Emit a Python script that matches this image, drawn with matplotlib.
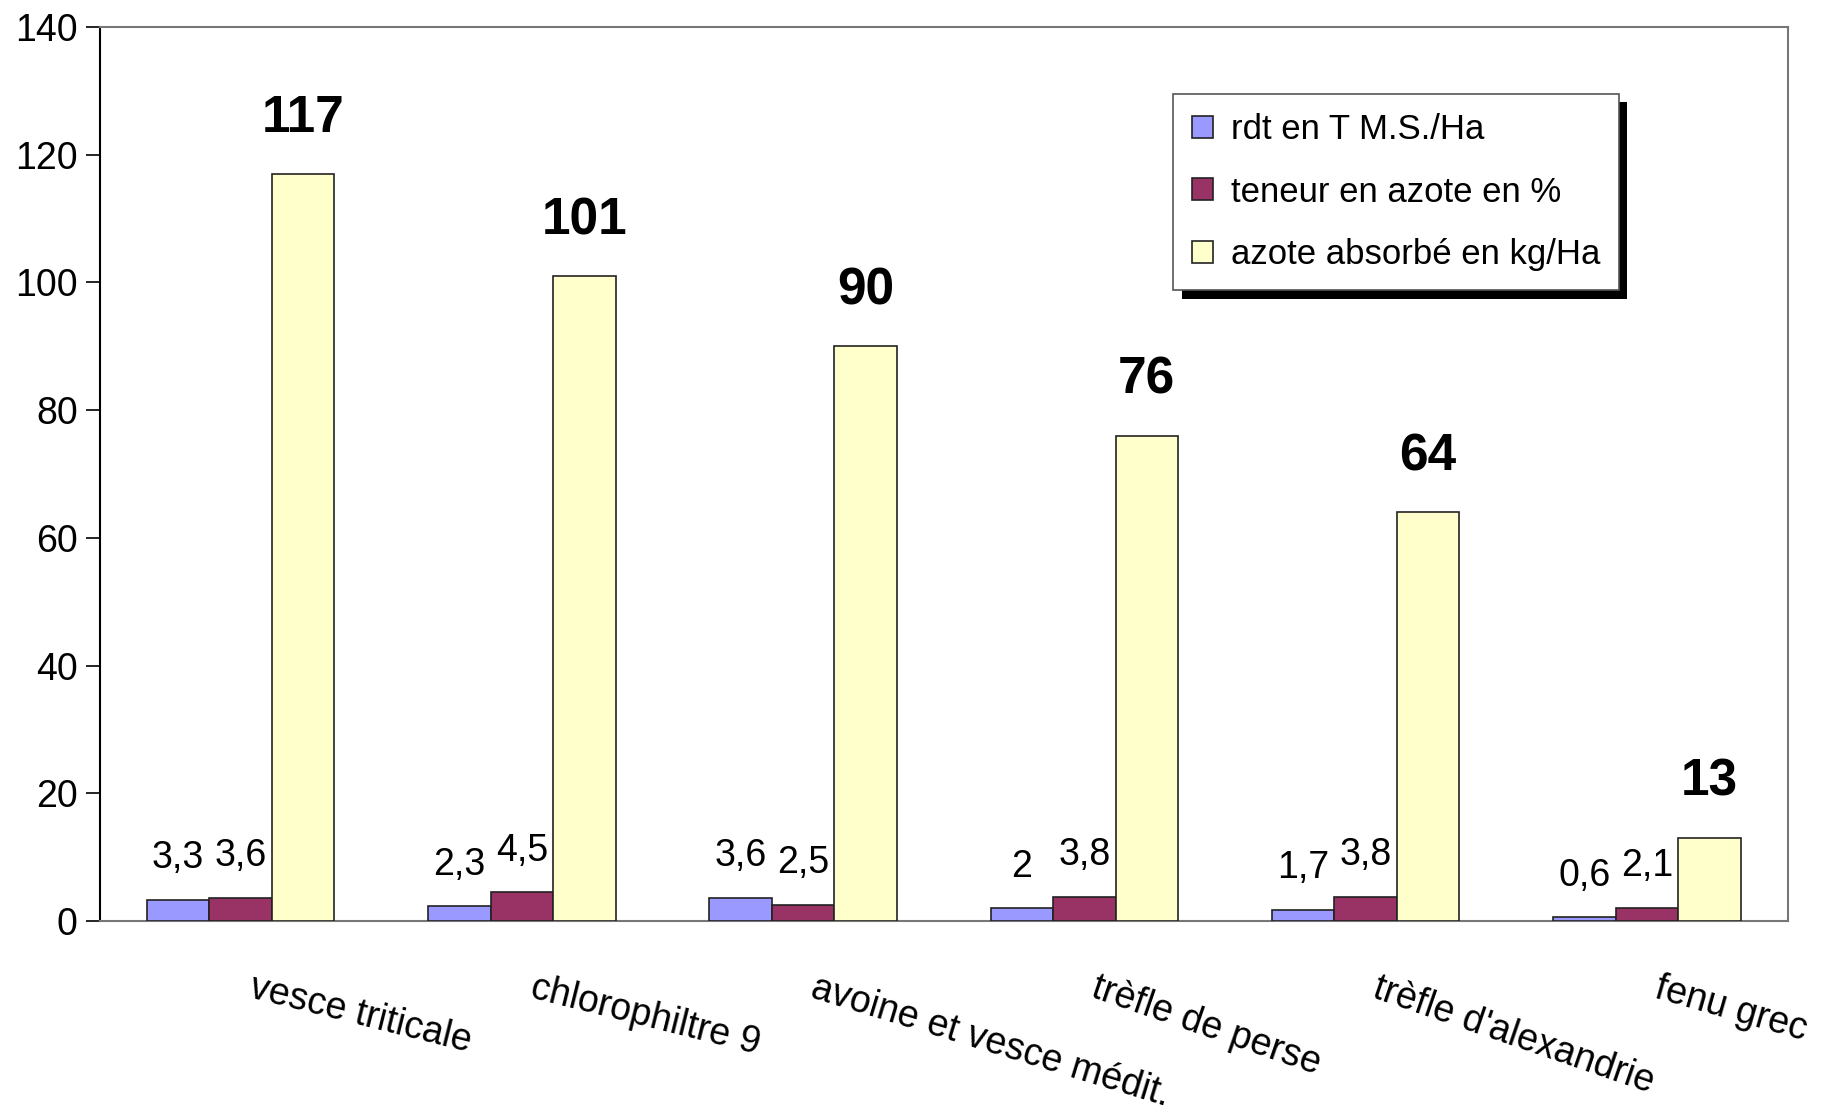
import numpy as np
import matplotlib
matplotlib.use("Agg")
import matplotlib.pyplot as plt
import matplotlib.patheffects as pe

plt.rcParams['font.family'] = ['Liberation Sans', 'DejaVu Sans']

categories = ["vesce triticale", "chlorophiltre 9", "avoine et vesce médit.",
              "trèfle de perse", "trèfle d'alexandrie", "fenu grec"]
label_rot = [-14, -14, -17, -19, -19, -16]
rdt = [3.3, 2.3, 3.6, 2, 1.7, 0.6]
teneur = [3.6, 4.5, 2.5, 3.8, 3.8, 2.1]
azote = [117, 101, 90, 76, 64, 13]

series_names = ["rdt en T M.S./Ha", "teneur en azote en %", "azote absorbé en kg/Ha"]
colors = ["#9999FF", "#993366", "#FFFFCC"]


def fmt(v):
    s = f"{v:g}"
    return s.replace(".", ",")


fig = plt.figure(figsize=(18.24, 11.13), dpi=100)
ax = fig.add_axes([0.0548, 0.1725, 0.9252, 0.8032])

x = np.arange(len(categories))
w = 0.222
offsets = [-w, 0, w]
all_series = [rdt, teneur, azote]

for k, (vals, col, name) in enumerate(zip(all_series, colors, series_names)):
    ax.bar(x + offsets[k], vals, width=w, color=col, edgecolor="#222222",
           linewidth=1.2, label=name, zorder=3)
    for xi, v in zip(x + offsets[k], vals):
        if k == 2:
            ax.annotate(fmt(v), (xi, v), xytext=(0, 40), textcoords="offset points",
                        ha="center", va="center", fontsize=37, fontweight="bold")
        else:
            ax.annotate(fmt(v), (xi, v), xytext=(0, 30), textcoords="offset points",
                        ha="center", va="center", fontsize=27)

ax.set_xlim(-0.5, len(categories) - 0.5)
ax.set_ylim(0, 140)
ax.set_yticks(range(0, 141, 20))
ax.tick_params(axis="y", labelsize=27, length=10, width=1.2, direction="out", pad=6)
ax.set_xticks([])

for side in ["top", "right", "bottom"]:
    ax.spines[side].set_color("#777777")
    ax.spines[side].set_linewidth(1.5)
ax.spines["left"].set_color("black")
ax.spines["left"].set_linewidth(1.5)

# category labels, slanted below the axis
for i, (cat, rot) in enumerate(zip(categories, label_rot)):
    ax.text(i + 0.05, -0.055, cat, transform=ax.get_xaxis_transform(),
            rotation=rot, rotation_mode="anchor", ha="left", va="top", fontsize=27)

leg = ax.legend(loc="upper left", bbox_to_anchor=(0.636, 0.925), fontsize=25,
                frameon=True, fancybox=False, shadow=False, framealpha=1,
                handlelength=0.6, handleheight=0.6, handletextpad=0.5,
                labelspacing=0.85, borderpad=0.55, borderaxespad=0)
frame = leg.get_frame()
frame.set_facecolor("white")
frame.set_edgecolor("#555555")
frame.set_linewidth(1.2)
frame.set_path_effects([pe.SimplePatchShadow(offset=(6, -6), shadow_rgbFace="black", alpha=1),
                        pe.Normal()])
for h in leg.legend_handles:
    h.set_edgecolor("#222222")

fig.savefig("out.png", dpi=100)
